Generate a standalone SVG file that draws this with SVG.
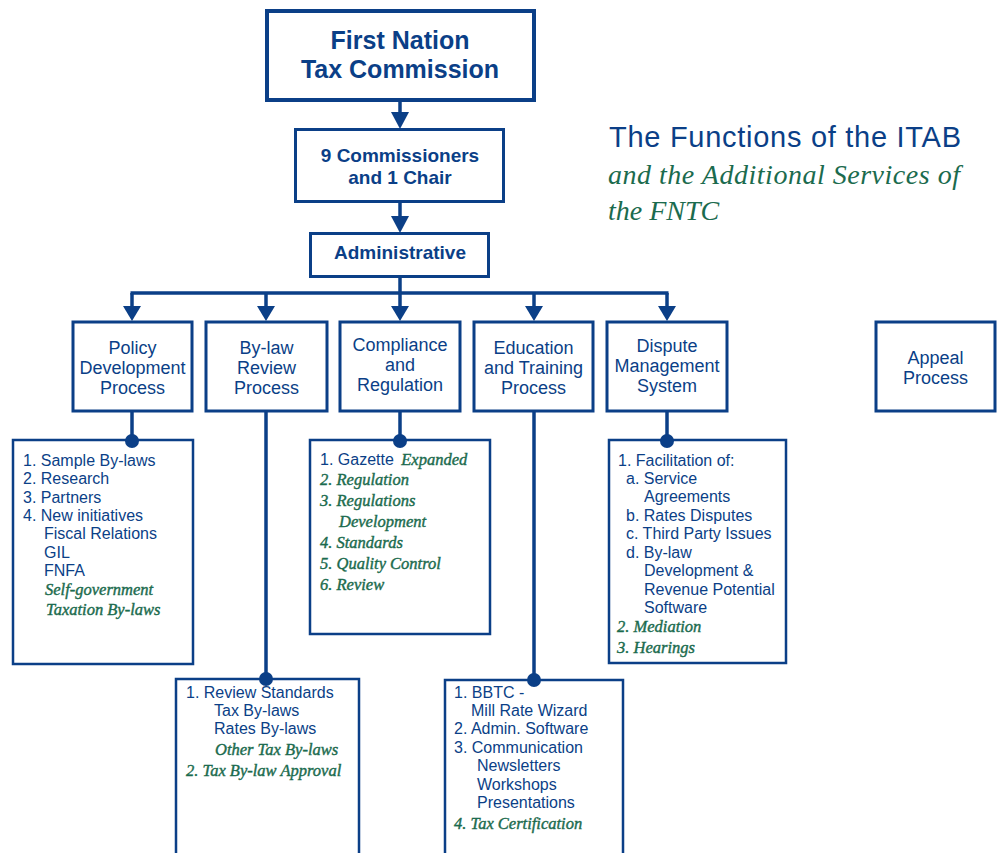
<svg xmlns="http://www.w3.org/2000/svg" width="997" height="853" viewBox="0 0 997 853">
<defs>
<style>
.box{fill:#fff;stroke:#0b3f87;stroke-width:3}
.lst{fill:#fff;stroke:#0b3f87;stroke-width:2.5}
.ln{stroke:#0b3f87;stroke-width:3.5;fill:none}
.ah{fill:#0b3f87}
.b{font-family:"Liberation Sans",Arial,sans-serif;font-weight:bold;fill:#0b3f87;text-anchor:middle}
.p{font-family:"Liberation Sans",Arial,sans-serif;font-size:18px;fill:#0b3f87;text-anchor:middle}
.l{font-family:"Liberation Sans",Arial,sans-serif;font-size:16px;fill:#0b3f87}
.g{font-family:"Liberation Serif","Times New Roman",serif;font-style:italic;font-size:16.5px;fill:#1b6b4e;stroke:#1b6b4e;stroke-width:0.4}
</style>
</defs>
<g id="connectors">
<line class="ln" x1="400" y1="101" x2="400" y2="114"/>
<polygon class="ah" points="391,112 409,112 400,129"/>
<line class="ln" x1="400" y1="202" x2="400" y2="218"/>
<polygon class="ah" points="391,216 409,216 400,233"/>
<line class="ln" x1="400" y1="277" x2="400" y2="293"/>
<line class="ln" x1="130.5" y1="293" x2="668.5" y2="293"/>
<line class="ln" x1="132" y1="293" x2="132" y2="308"/>
<polygon class="ah" points="123,306 141,306 132,321"/>
<line class="ln" x1="266" y1="293" x2="266" y2="308"/>
<polygon class="ah" points="257,306 275,306 266,321"/>
<line class="ln" x1="400" y1="293" x2="400" y2="308"/>
<polygon class="ah" points="391,306 409,306 400,321"/>
<line class="ln" x1="534" y1="293" x2="534" y2="308"/>
<polygon class="ah" points="525,306 543,306 534,321"/>
<line class="ln" x1="667" y1="293" x2="667" y2="308"/>
<polygon class="ah" points="658,306 676,306 667,321"/>
<line class="ln" x1="132" y1="411" x2="132" y2="441"/>
<line class="ln" x1="266" y1="411" x2="266" y2="679"/>
<line class="ln" x1="400" y1="411" x2="400" y2="441"/>
<line class="ln" x1="534" y1="411" x2="534" y2="680"/>
<line class="ln" x1="667" y1="411" x2="667" y2="441"/>
</g>
<g id="fntc">
<rect x="267" y="11" width="267" height="89" fill="#fff" stroke="#0b3f87" stroke-width="4"/>
<text class="b" x="400" y="49" font-size="25">First Nation</text>
<text class="b" x="400" y="78" font-size="25">Tax Commission</text>
</g>
<g id="commissioners">
<rect class="box" x="295.5" y="129.5" width="208" height="72"/>
<text class="b" x="400" y="162" font-size="19">9 Commissioners</text>
<text class="b" x="400" y="184" font-size="19">and 1 Chair</text>
</g>
<g id="administrative">
<rect class="box" x="310.5" y="233.5" width="178" height="43"/>
<text class="b" x="400" y="259" font-size="19">Administrative</text>
</g>
<g id="title">
<text x="609" y="147" font-family="'Liberation Sans',Arial,sans-serif" font-size="29" fill="#0b3f87" textLength="352" lengthAdjust="spacing">The Functions of the ITAB</text>
<text x="608" y="184" font-family="'Liberation Serif','Times New Roman',serif" font-style="italic" font-size="28" fill="#1b6b4e" textLength="352" lengthAdjust="spacing">and the Additional Services of</text>
<text x="608" y="220" font-family="'Liberation Serif','Times New Roman',serif" font-style="italic" font-size="28" fill="#1b6b4e">the FNTC</text>
</g>
<g id="policy">
<rect class="box" x="73" y="322" width="119" height="89"/>
<text class="p" x="132.5" y="354">Policy</text>
<text class="p" x="132.5" y="374">Development</text>
<text class="p" x="132.5" y="394">Process</text>
</g>
<g id="bylaw">
<rect class="box" x="206" y="322" width="121" height="89"/>
<text class="p" x="266.5" y="354">By-law</text>
<text class="p" x="266.5" y="374">Review</text>
<text class="p" x="266.5" y="394">Process</text>
</g>
<g id="compliance">
<rect class="box" x="340" y="322" width="120" height="89"/>
<text class="p" x="400" y="351">Compliance</text>
<text class="p" x="400" y="371">and</text>
<text class="p" x="400" y="391">Regulation</text>
</g>
<g id="education">
<rect class="box" x="474" y="322" width="119" height="89"/>
<text class="p" x="533.5" y="354">Education</text>
<text class="p" x="533.5" y="374">and Training</text>
<text class="p" x="533.5" y="394">Process</text>
</g>
<g id="dispute">
<rect class="box" x="607" y="322" width="120" height="89"/>
<text class="p" x="667" y="352">Dispute</text>
<text class="p" x="667" y="372">Management</text>
<text class="p" x="667" y="392">System</text>
</g>
<g id="appeal">
<rect class="box" x="876" y="322" width="119" height="89"/>
<text class="p" x="935.5" y="364">Appeal</text>
<text class="p" x="935.5" y="384">Process</text>
</g>
<g id="policy-list">
<rect class="lst" x="13" y="440" width="180" height="224"/>
<circle class="ah" cx="132" cy="441" r="7"/>
<text class="l" x="23" y="466">1. Sample By-laws</text>
<text class="l" x="23" y="484">2. Research</text>
<text class="l" x="23" y="503">3. Partners</text>
<text class="l" x="23" y="521">4. New initiatives</text>
<text class="l" x="44" y="539">Fiscal Relations</text>
<text class="l" x="44" y="558">GIL</text>
<text class="l" x="44" y="576">FNFA</text>
<text class="g" x="45" y="595">Self-government</text>
<text class="g" x="46" y="615">Taxation By-laws</text>
</g>
<g id="compliance-list">
<rect class="lst" x="310" y="440" width="180" height="194"/>
<circle class="ah" cx="400" cy="441" r="7"/>
<text class="l" x="320" y="465">1. Gazette <tspan class="g" dx="3">Expanded</tspan></text>
<text class="g" x="320" y="485">2. Regulation</text>
<text class="g" x="320" y="506">3. Regulations</text>
<text class="g" x="339" y="527">Development</text>
<text class="g" x="320" y="548">4. Standards</text>
<text class="g" x="320" y="569">5. Quality Control</text>
<text class="g" x="320" y="590">6. Review</text>
</g>
<g id="dispute-list">
<rect class="lst" x="609" y="440" width="177" height="223"/>
<circle class="ah" cx="667" cy="441" r="7"/>
<text class="l" x="618" y="466">1. Facilitation of:</text>
<text class="l" x="626" y="484">a. Service</text>
<text class="l" x="644" y="502">Agreements</text>
<text class="l" x="626" y="521">b. Rates Disputes</text>
<text class="l" x="626" y="539">c. Third Party Issues</text>
<text class="l" x="626" y="558">d. By-law</text>
<text class="l" x="644" y="576">Development &amp;</text>
<text class="l" x="644" y="595">Revenue Potential</text>
<text class="l" x="644" y="613">Software</text>
<text class="g" x="617" y="632">2. Mediation</text>
<text class="g" x="617" y="653">3. Hearings</text>
</g>
<g id="bylaw-list">
<rect class="lst" x="176" y="679" width="183" height="190"/>
<circle class="ah" cx="266" cy="679" r="7"/>
<text class="l" x="186" y="698">1. Review Standards</text>
<text class="l" x="214" y="716">Tax By-laws</text>
<text class="l" x="214" y="734">Rates By-laws</text>
<text class="g" x="215" y="755">Other Tax By-laws</text>
<text class="g" x="186" y="776">2. Tax By-law Approval</text>
</g>
<g id="education-list">
<rect class="lst" x="445" y="680" width="178" height="190"/>
<circle class="ah" cx="534" cy="680" r="7"/>
<text class="l" x="454" y="698">1. BBTC -</text>
<text class="l" x="471" y="716">Mill Rate Wizard</text>
<text class="l" x="454" y="734">2. Admin. Software</text>
<text class="l" x="454" y="753">3. Communication</text>
<text class="l" x="477" y="771">Newsletters</text>
<text class="l" x="477" y="790">Workshops</text>
<text class="l" x="477" y="808">Presentations</text>
<text class="g" x="454" y="829">4. Tax Certification</text>
</g>
</svg>
